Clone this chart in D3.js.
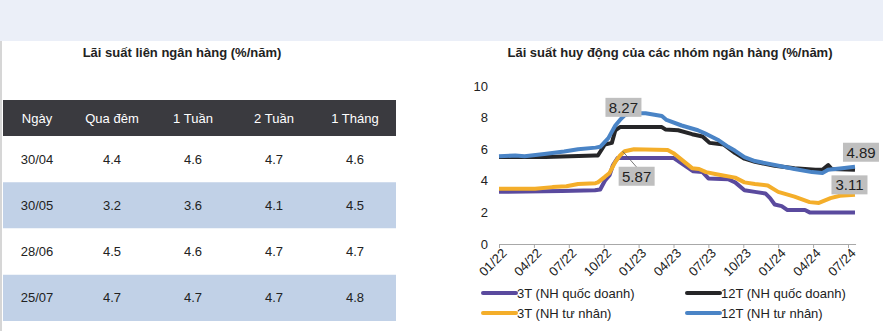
<!DOCTYPE html>
<html><head><meta charset="utf-8">
<script src="https://cdn.jsdelivr.net/npm/d3@7"></script>
<style>
body{margin:0;background:#fff;}
svg{display:block;font-family:"Liberation Sans",Arial,sans-serif;}
</style>
</head><body>
<svg id="c" width="883" height="331"></svg>
<script>
// ---------- DATA ----------
const tableTitle = "Lãi suất liên ngân hàng (%/năm)";
const tableColumns = ["Ngày", "Qua đêm", "1 Tuần", "2 Tuần", "1 Tháng"];
const tableDates = ["30/04", "30/05", "28/06", "25/07"];
const overnight = [4.4, 3.2, 4.5, 4.7];
const week1 = [4.6, 3.6, 4.6, 4.7];
const week2 = [4.7, 4.1, 4.7, 4.7];
const month1 = [4.6, 4.5, 4.7, 4.8];

const chartTitle = "Lãi suất huy động của các nhóm ngân hàng (%/năm)";
const yTicks = [0, 2, 4, 6, 8, 10];
const xTickLabels = ["01/22","04/22","07/22","10/22","01/23","04/23","07/23","10/23","01/24","04/24","07/24"];
const seriesNames = ["3T (NH quốc doanh)", "12T (NH quốc doanh)", "3T (NH tư nhân)", "12T (NH tư nhân)"];
// [months since 01/2022, rate %]
const state3M = [[0,3.3],[5.4,3.35],[8.25,3.4],[8.7,3.45],[9.1,4.0],[9.5,4.35],[9.8,5.0],[10.2,5.45],[15.0,5.45],[16.7,4.6],[17.5,4.55],[18.0,4.15],[19.7,4.1],[20.3,3.9],[21.1,3.4],[22.0,3.3],[22.9,3.2],[23.3,2.9],[23.7,2.5],[24.3,2.4],[24.8,2.15],[26.3,2.15],[26.7,2.0],[30.6,2.0]];
const state12M = [[0,5.5],[4,5.5],[8.25,5.6],[8.5,5.6],[9.1,6.3],[9.7,6.4],[10.0,7.2],[10.4,7.4],[14.0,7.4],[14.3,7.25],[15.4,7.2],[16.6,6.95],[17.5,6.8],[18.1,6.4],[19.3,6.3],[20.3,5.75],[21.1,5.4],[22.0,5.2],[23.7,4.95],[25.4,4.8],[27.2,4.7],[27.8,4.7],[28.3,5.0],[28.6,4.75],[30.6,4.7]];
const private3M = [[0,3.5],[3.1,3.5],[4.6,3.6],[5.8,3.65],[6.8,3.8],[8.3,3.85],[8.5,3.9],[9.1,4.25],[9.5,4.5],[10.0,5.2],[10.4,5.6],[10.8,5.87],[11.6,6.0],[14.5,5.95],[15.0,5.75],[16.6,4.8],[17.2,4.75],[17.8,4.55],[18.8,4.4],[20.3,4.2],[21.1,3.9],[22.0,3.8],[23.1,3.7],[24.0,3.3],[25.4,3.0],[26.7,2.65],[27.5,2.6],[28.5,2.9],[29.3,3.05],[30.6,3.11]];
const private12M = [[0,5.55],[1.4,5.6],[2.2,5.55],[3.9,5.7],[5.6,5.85],[6.8,6.0],[8.3,6.1],[8.7,6.15],[9.4,6.7],[10.0,7.5],[10.4,7.85],[10.8,8.15],[11.3,8.27],[12.6,8.27],[14.0,8.1],[14.4,7.85],[15.7,7.5],[17.1,7.2],[17.7,7.0],[18.8,6.6],[19.7,6.15],[20.3,5.9],[21.1,5.5],[22.0,5.25],[23.7,5.0],[25.4,4.75],[26.9,4.55],[27.8,4.5],[28.3,4.7],[29.5,4.8],[30.6,4.89]];
const seriesColors = ["#5a4a9e", "#262628", "#f4ae2a", "#4a84c6"];
// annotations: [series index, point index, label]
const annotations = [[3, 12, "8.27"], [2, 11, "5.87"], [3, 30, "4.89"], [2, 29, "3.11"]];

// ---------- DRAW ----------
const svg = d3.select("#c");
svg.append("rect").attr("x",0).attr("y",0).attr("width",883).attr("height",41).attr("fill","#ebeff8");
svg.append("line").attr("x1",1).attr("x2",1).attr("y1",41).attr("y2",331).attr("stroke","#c8c8c8").attr("stroke-width",1.5);

// ----- table -----
const colX = [37, 112, 193, 274, 355];
const tLeft = 3, tRight = 396;
svg.append("text").attr("x",182).attr("y",57).attr("text-anchor","middle")
  .attr("font-size",13).attr("font-weight","bold").attr("fill","#222").text(tableTitle);
svg.append("rect").attr("x",tLeft).attr("y",100).attr("width",tRight-tLeft).attr("height",36).attr("fill","#3a3a3f");
svg.selectAll(".th").data(tableColumns).join("text")
  .attr("x",(d,i)=>colX[i]).attr("y",118).attr("dy","0.35em").attr("text-anchor","middle")
  .attr("font-size",13).attr("fill","#fff").text(d=>d);
const rowY = d3.scaleBand().domain(tableDates).range([136, 321]);
const rows = tableDates.map((d,i)=>[d, overnight[i], week1[i], week2[i], month1[i]]);
svg.selectAll(".tr").data(rows).join("rect")
  .attr("x",tLeft).attr("y",d=>rowY(d[0])).attr("width",tRight-tLeft).attr("height",rowY.bandwidth())
  .attr("fill",(d,i)=> i%2 ? "#c1d1e7" : "#ffffff");
rows.forEach(r=>{
  svg.selectAll(null).data(r).join("text")
    .attr("x",(d,i)=>colX[i]).attr("y",rowY(r[0])+rowY.bandwidth()/2).attr("dy","0.35em")
    .attr("text-anchor","middle").attr("font-size",13).attr("fill","#222")
    .text(d=> typeof d === "number" ? d.toFixed(1) : d);
});

// ----- chart -----
svg.append("text").attr("x",670).attr("y",57).attr("text-anchor","middle")
  .attr("font-size",13).attr("font-weight","bold").attr("fill","#222").text(chartTitle);
const x = d3.scaleLinear().domain([0, 30.65]).range([499, 499 + 30.65*349/30]);
const y = d3.scaleLinear().domain([0, 10]).range([244, 86]);

const yAxis = svg.append("g").attr("transform","translate(499,0)")
  .call(d3.axisLeft(y).tickValues(yTicks).tickSize(0).tickPadding(11));
yAxis.select(".domain").remove();
yAxis.selectAll("text").attr("font-size",13).attr("fill","#222").attr("font-family",null);

const xAxis = svg.append("g").attr("transform","translate(0,244)")
  .call(d3.axisBottom(x).tickValues(d3.range(0,31,3)).tickSize(4).tickSizeOuter(0)
    .tickFormat((d,i)=>xTickLabels[i]));
xAxis.select(".domain").attr("stroke","#a8a8a8");
xAxis.selectAll(".tick line").attr("stroke","#a8a8a8");
xAxis.selectAll("text").attr("font-size",13).attr("fill","#222").attr("font-family",null)
  .attr("text-anchor","end").attr("y",0).attr("dy",0)
  .attr("transform","translate(8,10) rotate(-45)");

const series = [state3M, private3M, state12M, private12M];
const seriesIdx = [0, 2, 1, 3];
const line = d3.line().x(d=>x(d[0])).y(d=>y(d[1]));
svg.selectAll(".ln").data(series).join("path")
  .attr("d", line).attr("fill","none")
  .attr("stroke",(d,i)=>seriesColors[seriesIdx[i]])
  .attr("stroke-width",4).attr("stroke-linejoin","round").attr("stroke-linecap","butt");

// annotations
const dataBySeries = [state3M, state12M, private3M, private12M];
const annOffsets = [[-7,-6],[12,25],[6,-14.5],[-5.5,-10]];
annotations.forEach((a,k)=>{
  const p = dataBySeries[a[0]][a[1]];
  const px = x(p[0]), py = y(p[1]);
  const cx = px + annOffsets[k][0], cy = py + annOffsets[k][1];
  if (k === 1) {
    svg.append("line").attr("x1",px-2).attr("y1",py).attr("x2",cx+1).attr("y2",cy-8)
      .attr("stroke","#555").attr("stroke-width",0.8);
  }
  svg.append("rect").attr("x",cx-18).attr("y",cy-9.5).attr("width",36).attr("height",19).attr("fill","#bfbfbf");
  svg.append("text").attr("x",cx).attr("y",cy).attr("dy","0.36em").attr("text-anchor","middle")
    .attr("font-size",15).attr("fill","#222").text(a[2]);
});

// legend
const legPos = [[483,293],[687,293],[483,313],[687,313]];
seriesNames.forEach((n,i)=>{
  const [lx,ly] = legPos[i];
  svg.append("line").attr("x1",lx).attr("x2",lx+33).attr("y1",ly).attr("y2",ly)
    .attr("stroke",seriesColors[i]).attr("stroke-width",4).attr("stroke-linecap","round");
  svg.append("text").attr("x",lx+34).attr("y",ly).attr("dy","0.35em")
    .attr("font-size",13).attr("fill","#222").text(n);
});
</script>
</body></html>
